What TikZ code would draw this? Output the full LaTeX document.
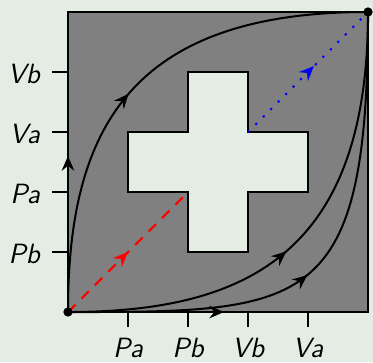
\documentclass[tikz,border=0pt]{standalone}
\usetikzlibrary{arrows.meta,decorations.markings}
\definecolor{bgc}{RGB}{228,237,228}
\definecolor{sqgray}{RGB}{128,128,128}
\tikzset{
  midarrow/.style={postaction={decorate},decoration={markings,mark=at position #1 with {\arrow{Stealth[length=7pt,width=6pt,inset=2.4pt]}}}},
  curve/.style={line width=0.95pt},
  tickline/.style={line width=1.1pt},
  lbl/.style={font=\sffamily\itshape\fontsize{13.2}{15}\selectfont, inner sep=0pt},
}
\begin{document}
\begin{tikzpicture}
\fill[bgc] (-1.133,-0.833) rectangle (5.083,5.2);
\useasboundingbox (-1.133,-0.833) rectangle (5.083,5.2);
\coordinate (O) at (0,0);
\coordinate (E) at (5,5);
\coordinate (TL) at (0,5);
\coordinate (BR) at (5,0);
\coordinate (C1) at (2,2);
\coordinate (C2) at (3,3);
% square
\draw[fill=sqgray, line width=1.3pt] (O) rectangle (E);
% cross
\draw[fill=bgc, line width=1.1pt] (2,1) -- (3,1) -- (3,2) -- (4,2) -- (4,3) -- (3,3) -- (3,4) -- (2,4) -- (2,3) -- (1,3) -- (1,2) -- (2,2) -- cycle;
% ticks and labels
\foreach \x/\t in {1/Pa,2/Pb,3/Vb,4/Va}{
  \draw[tickline] (\x,0) -- (\x,-0.25);
  \node[lbl, anchor=base] (xl\x) at (\x,-0.75) {\t};
}
\foreach \y/\t in {1/Pb,2/Pa,3/Va,4/Vb}{
  \draw[tickline] (0,\y) -- (-0.27,\y);
  \node[lbl, anchor=base east] (yl\y) at (-0.46,\y-0.185) {\t};
}
% edge paths
\draw[curve, midarrow=0.26] (O) -- (TL) -- (E);
\draw[curve, midarrow=0.26] (O) -- (BR) -- (E);
% curves
\draw[curve, midarrow=0.47] (O) .. controls (0,3) and (1,5) .. (E);
\draw[curve, midarrow=0.47] (O) .. controls (3,0) and (5,1) .. (E);
\draw[curve, midarrow=0.47] (O) .. controls (4,0) and (5,0) .. (E);
% red and blue
\draw[red, line width=1pt, dash pattern=on 5pt off 4pt, midarrow=0.5] (O) -- (C1);
\draw[blue, line width=1pt, dash pattern=on 1pt off 4pt, midarrow=0.55] (C2) -- (E);
% dots
\fill (O) circle (2.2pt);
\fill (E) circle (2.2pt);
\end{tikzpicture}
\end{document}
